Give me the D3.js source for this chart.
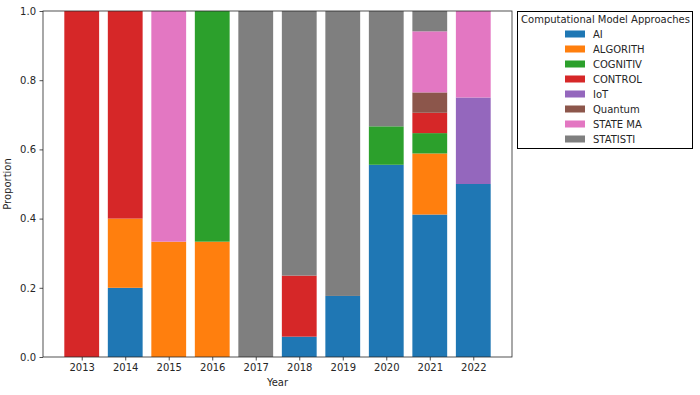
<!DOCTYPE html>
<html>
<head>
<meta charset="utf-8">
<script src="https://cdn.jsdelivr.net/npm/d3@7"></script>
<style>
  body { margin: 0; background: #fff; }
  svg text { font-family: "DejaVu Sans", sans-serif; fill: #262626; }
</style>
</head>
<body>
<script>
// Years on the x axis
var years = [2013, 2014, 2015, 2016, 2017, 2018, 2019, 2020, 2021, 2022];

// Approach categories (stack order, bottom to top)
var approaches = ["AI", "ALGORITH", "COGNITIV", "CONTROL", "IoT", "Quantum", "STATE MA", "STATISTI"];
var colors = ["#1f77b4", "#ff7f0e", "#2ca02c", "#d62728", "#9467bd", "#8c564b", "#e377c2", "#7f7f7f"];

// Proportions per approach, one value per year
var aiVals       = [0, 0.2, 0, 0, 0, 1/17, 3/17, 5/9, 7/17, 0.5];
var algorithVals = [0, 0.2, 1/3, 1/3, 0, 0, 0, 0, 3/17, 0];
var cognitivVals = [0, 0, 0, 2/3, 0, 0, 0, 1/9, 1/17, 0];
var controlVals  = [1, 0.6, 0, 0, 0, 3/17, 0, 0, 1/17, 0];
var iotVals      = [0, 0, 0, 0, 0, 0, 0, 0, 0, 0.25];
var quantumVals  = [0, 0, 0, 0, 0, 0, 0, 0, 1/17, 0];
var stateMaVals  = [0, 0, 2/3, 0, 0, 0, 0, 0, 3/17, 0.25];
var statistiVals = [0, 0, 0, 0, 1, 13/17, 14/17, 3/9, 1/17, 0];

var yTicks = [0, 0.2, 0.4, 0.6, 0.8, 1.0];

// build rows for d3.stack
var seriesVals = [aiVals, algorithVals, cognitivVals, controlVals, iotVals, quantumVals, stateMaVals, statistiVals];
var rows = years.map(function(y, i) {
  var r = { year: y };
  approaches.forEach(function(a, j) { r[a] = seriesVals[j][i]; });
  return r;
});

var w = 700, h = 395;
var margin = { top: 11, right: 188, bottom: 38, left: 43 };
var gw = w - margin.left - margin.right;
var gh = h - margin.top - margin.bottom;

var svg = d3.select("body").append("svg")
  .attr("width", w)
  .attr("height", h);

var graph = svg.append("g")
  .attr("transform", `translate(${margin.left}, ${margin.top})`);

// matplotlib-like x range: bars of width 0.8 plus 5% margins
var barW = 0.8;
var lo = years[0] - barW / 2, hi = years[years.length - 1] + barW / 2;
var pad = (hi - lo) * 0.05;

var xScale = d3.scaleLinear()
  .domain([lo - pad, hi + pad])
  .range([0, gw]);

var yScale = d3.scaleLinear()
  .domain([0, 1])
  .range([gh, 0]);

var colorScale = d3.scaleOrdinal()
  .domain(approaches)
  .range(colors);

var stacked = d3.stack().keys(approaches)(rows);

graph.selectAll("g.layer")
  .data(stacked)
  .enter().append("g")
  .attr("class", "layer")
  .attr("fill", d => colorScale(d.key))
  .selectAll("rect")
  .data(d => d.filter(p => p[1] - p[0] > 0))
  .enter().append("rect")
  .attr("x", d => xScale(d.data.year - barW / 2))
  .attr("width", d => xScale(barW) - xScale(0))
  .attr("y", d => yScale(d[1]))
  .attr("height", d => yScale(d[0]) - yScale(d[1]));

// axes
var xAxis = d3.axisBottom(xScale).tickValues(years).tickFormat(d3.format("d")).tickSize(3.5).tickPadding(3.5);
var yAxis = d3.axisLeft(yScale).tickValues(yTicks).tickFormat(d3.format(".1f")).tickSize(3.5).tickPadding(3.5);

var gx = graph.append("g").attr("transform", `translate(0, ${gh})`).call(xAxis);
var gy = graph.append("g").call(yAxis);

[gx, gy].forEach(function(g) {
  g.select(".domain").remove();
  g.selectAll("text").style("font-size", "10px").attr("fill", "#262626");
  g.selectAll("line").attr("stroke", "#262626").attr("stroke-width", 0.8);
});

// frame
graph.append("rect")
  .attr("width", gw)
  .attr("height", gh)
  .attr("fill", "none")
  .attr("stroke", "#262626")
  .attr("stroke-width", 0.8);

// axis labels
graph.append("text")
  .attr("x", gw / 2)
  .attr("y", gh + 29)
  .attr("text-anchor", "middle")
  .style("font-size", "10px")
  .text("Year");

graph.append("text")
  .attr("transform", `translate(${-32}, ${gh / 2}) rotate(-90)`)
  .attr("text-anchor", "middle")
  .style("font-size", "10px")
  .text("Proportion");

// legend
var legend = svg.append("g").attr("transform", "translate(517.5, 11.5)");
legend.append("rect")
  .attr("width", 175)
  .attr("height", 137)
  .attr("fill", "#fff")
  .attr("stroke", "#000")
  .attr("stroke-width", 1);

legend.append("text")
  .attr("x", 88)
  .attr("y", 11.5)
  .attr("text-anchor", "middle")
  .style("font-size", "10px")
  .text("Computational Model Approaches");

var items = legend.selectAll("g.item")
  .data(approaches)
  .enter().append("g")
  .attr("class", "item")
  .attr("transform", (d, i) => `translate(0, ${22.5 + i * 15})`);

items.append("rect")
  .attr("x", 47.5)
  .attr("y", -3.5)
  .attr("width", 20)
  .attr("height", 7)
  .attr("fill", d => colorScale(d));

items.append("text")
  .attr("x", 75.5)
  .attr("y", 3.5)
  .style("font-size", "10px")
  .text(d => d);
</script>
</body>
</html>
